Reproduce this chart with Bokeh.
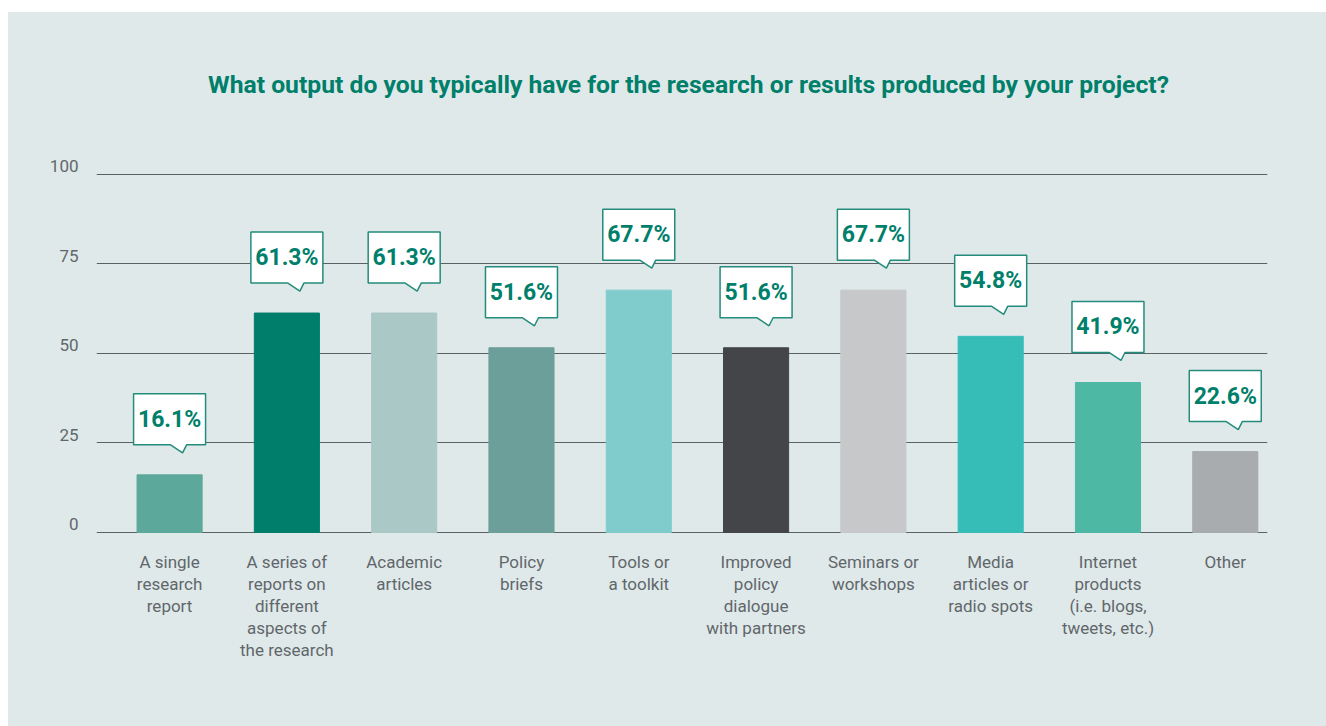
from bokeh.plotting import figure
from bokeh.models import Range1d, FixedTicker, Label, Spacer, ColumnDataSource
from bokeh.layouts import column, row
from bokeh.core.properties import value
from bokeh.embed import file_html
from bokeh.resources import INLINE

# ---- data ----
categories = [
    "A single\nresearch\nreport",
    "A series of\nreports on\ndifferent\naspects of\nthe research",
    "Academic\narticles",
    "Policy\nbriefs",
    "Tools or\na toolkit",
    "Improved\npolicy\ndialogue\nwith partners",
    "Seminars or\nworkshops",
    "Media\narticles or\nradio spots",
    "Internet\nproducts\n(i.e. blogs,\ntweets, etc.)",
    "Other",
]
values = [16.1, 61.3, 61.3, 51.6, 67.7, 51.6, 67.7, 54.8, 41.9, 22.6]
bar_colors = ["#5ca99b", "#007e6c", "#aac8c6", "#6c9f99", "#80cccc",
              "#444548", "#c6c8c9", "#37bdb7", "#4db8a4", "#a8acae"]
y_ticks = [0, 25, 50, 75, 100]
title_text = "What output do you typically have for the research or results produced by your project?"

# ---- style ----
PANEL = "#e0e9ea"
GREEN = "#007f6b"
FONT = "Roboto"

W, H = 1318, 714
LEFT, RIGHT = 88, 59
TOP, BOTTOM = 0, 192
PX_Y = 3.58
Y0 = -0.56
Y1 = Y0 + (H - TOP - BOTTOM) / PX_Y
PX_X = 117.3
FRAME_W = W - LEFT - RIGHT
X0 = -0.123
X1 = X0 + FRAME_W / PX_X

p = figure(width=W, height=H, output_backend="svg", toolbar_location=None,
           x_range=Range1d(X0, X1), y_range=Range1d(Y0, Y1),
           min_border_left=LEFT, min_border_right=RIGHT,
           min_border_top=TOP, min_border_bottom=BOTTOM)
p.background_fill_color = PANEL
p.border_fill_color = PANEL
p.styles = {"background-color": PANEL}
p.outline_line_color = None

xs = [i + 0.5 for i in range(len(values))]
src = ColumnDataSource(dict(x=xs, top=values, color=bar_colors))

# grid at real tick values
p.xgrid.grid_line_color = None
p.ygrid.ticker = FixedTicker(ticks=y_ticks)
p.ygrid.grid_line_color = "#5a6165"
p.ygrid.grid_line_width = 1.2

p.vbar(x="x", top="top", bottom=0, width=0.555, color="color", source=src)

# y labels sit slightly above their grid lines
lab_shift = 8 / PX_Y
shifted = [t + lab_shift for t in y_ticks]
p.yaxis.ticker = FixedTicker(ticks=shifted)
p.yaxis.major_label_overrides = {s: str(t) for s, t in zip(shifted, y_ticks)}
p.xaxis.ticker = FixedTicker(ticks=xs)
p.xaxis.major_label_overrides = {x: c for x, c in zip(xs, categories)}

for ax in (p.xaxis[0], p.yaxis[0]):
    ax.axis_line_color = None
    ax.major_tick_line_color = None
    ax.minor_tick_line_color = None
    ax.major_label_text_font = FONT
    ax.major_label_text_font_size = "17px"
    ax.major_label_text_color = "#60676a"
p.xaxis.major_label_standoff = 11
p.xaxis.major_label_text_line_height = 1.1
p.yaxis.major_label_standoff = 12

# ---- callouts ----
gap, ptr, bh, bw = 22, 8, 51, 72
cxs, cys, tys = [], [], []
for x, v in zip(xs, values):
    tip = v + gap / PX_Y
    bot = tip + ptr / PX_Y
    top = bot + bh / PX_Y
    hx = bw / 2 / PX_X
    cxs.append([x - hx, x + hx, x + hx, x + 17 / PX_X, x + 13 / PX_X, x + 1 / PX_X, x - hx])
    cys.append([top, top, bot, bot, tip, bot, bot])
    tys.append((top + bot) / 2)
p.patches(xs=cxs, ys=cys, fill_color="white", line_color="#238c7c", line_width=1.5)
p.text(x=xs, y=tys, text=[f"{v:.1f}%" for v in values], text_align="center",
       text_baseline="middle", text_font=value(FONT), text_font_style="bold",
       text_font_size="23px", text_color=GREEN)

# ---- title ----
title_x = X0 + (688 - 96) / PX_X
p.add_layout(Label(x=title_x, y=(532 - 84) / PX_Y, text=title_text,
                   text_align="center", text_baseline="middle", text_font=FONT,
                   text_font_style="bold", text_font_size="24.7px", text_color=GREEN))

layout = row(Spacer(width=8, height=H + 12),
             column(Spacer(width=W, height=12), p))
open("out.html", "w").write(file_html(layout, INLINE))
